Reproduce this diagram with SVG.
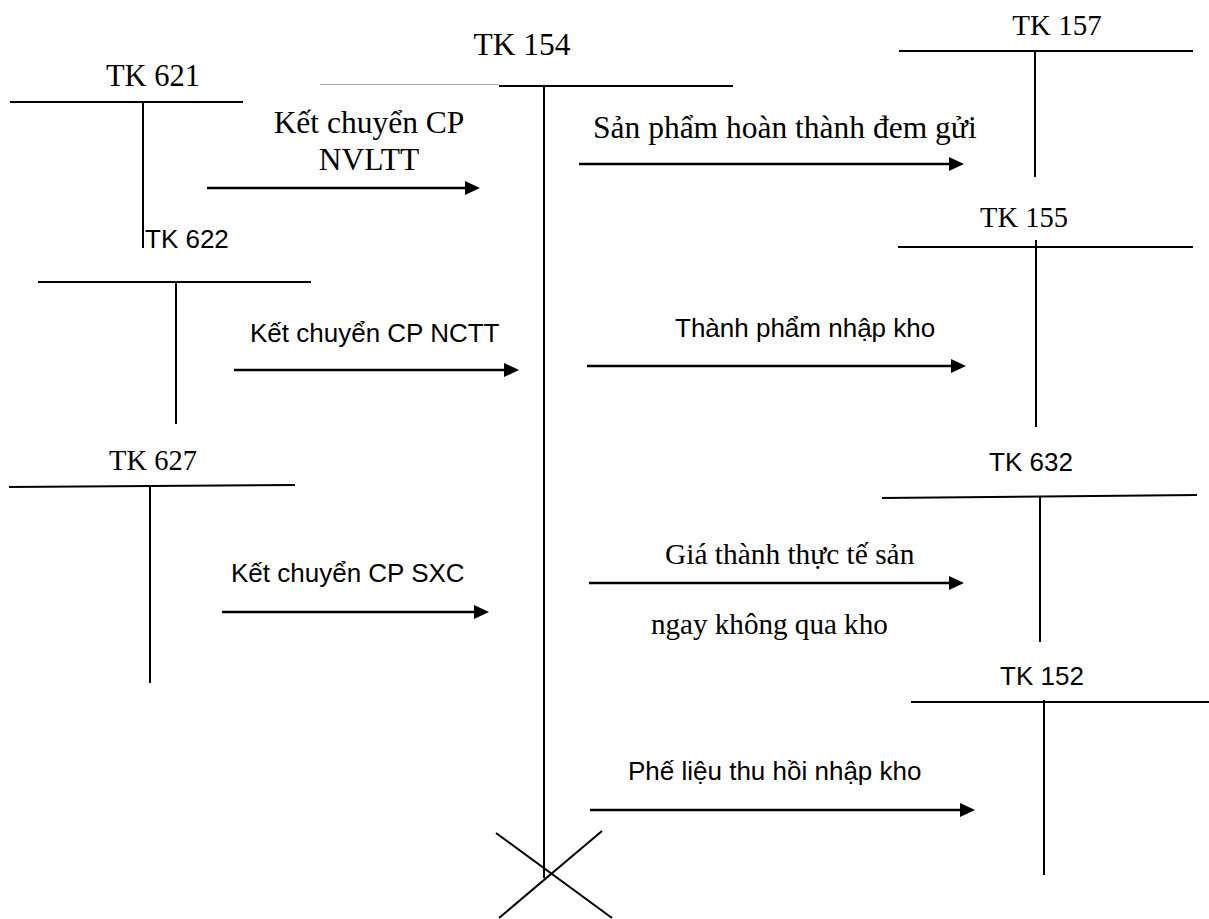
<svg xmlns="http://www.w3.org/2000/svg" width="1209" height="919" viewBox="0 0 1209 919">
  <style>
    .ln { stroke: #000; stroke-width: 2; fill: none; }
    .thin { stroke: #a8a8a8; stroke-width: 1.2; fill: none; }
    .arr { stroke: #000; stroke-width: 2.5; fill: none; marker-end: url(#ah); }
    .tnr { font-family: "Liberation Serif", "Times New Roman", serif; fill: #000; }
    .ar { font-family: "Liberation Sans", Arial, sans-serif; fill: #000; font-size: 26px; }
  </style>
  <defs>
    <marker id="ah" markerUnits="userSpaceOnUse" markerWidth="16" markerHeight="16" refX="3" refY="7" orient="auto">
      <path d="M0,0 L15,7 L0,14 z" fill="#000"/>
    </marker>
  </defs>
  <rect width="1209" height="919" fill="#fff"/>

  <g id="tk621">
    <text class="tnr" x="153" y="86" font-size="30.5" text-anchor="middle">TK 621</text>
    <line class="ln" x1="10" y1="102" x2="243" y2="102"/>
    <line class="ln" x1="143" y1="101" x2="143" y2="248"/>
  </g>
  <g id="tk622">
    <text class="ar" x="145" y="248">TK 622</text>
    <line class="ln" x1="38" y1="282" x2="311" y2="282"/>
    <line class="ln" x1="176" y1="282" x2="176" y2="424"/>
  </g>
  <g id="tk627">
    <text class="tnr" x="153" y="470" font-size="28.5" text-anchor="middle">TK 627</text>
    <line class="ln" x1="9" y1="487" x2="295" y2="485"/>
    <line class="ln" x1="150" y1="486" x2="150" y2="683"/>
  </g>
  <g id="tk154">
    <text class="tnr" x="522" y="55" font-size="31.5" text-anchor="middle">TK 154</text>
    <line class="thin" x1="320" y1="84.5" x2="499" y2="84.5"/>
    <line class="ln" x1="499" y1="86" x2="733" y2="86"/>
    <line class="ln" x1="544" y1="86" x2="544" y2="878"/>
    <line class="ln" x1="496" y1="833" x2="612" y2="918"/>
    <line class="ln" x1="602" y1="831" x2="499" y2="918"/>
  </g>
  <g id="tk157">
    <text class="tnr" x="1057" y="35" font-size="29" text-anchor="middle">TK 157</text>
    <line class="ln" x1="899" y1="51" x2="1193" y2="51"/>
    <line class="ln" x1="1035" y1="51" x2="1035" y2="177"/>
  </g>
  <g id="tk155">
    <text class="tnr" x="1024" y="227" font-size="28.5" text-anchor="middle">TK 155</text>
    <line class="ln" x1="898" y1="247" x2="1193" y2="247"/>
    <line class="ln" x1="1036" y1="240" x2="1036" y2="427"/>
  </g>
  <g id="tk632">
    <text class="ar" x="1031" y="471" text-anchor="middle">TK 632</text>
    <line class="ln" x1="882" y1="498" x2="1197" y2="495"/>
    <line class="ln" x1="1040" y1="497" x2="1040" y2="642"/>
  </g>
  <g id="tk152">
    <text class="ar" x="1042" y="685" text-anchor="middle">TK 152</text>
    <line class="ln" x1="911" y1="702" x2="1209" y2="702"/>
    <line class="ln" x1="1044" y1="700" x2="1044" y2="875"/>
  </g>

  <g id="connectors">
    <line class="arr" x1="207" y1="188" x2="468" y2="188"/>
    <line class="arr" x1="234" y1="370" x2="507" y2="370"/>
    <line class="arr" x1="222" y1="612" x2="477" y2="612"/>
    <line class="arr" x1="579" y1="164" x2="952" y2="164"/>
    <line class="arr" x1="587" y1="366" x2="954" y2="366"/>
    <line class="arr" x1="589" y1="583" x2="952" y2="583"/>
    <line class="arr" x1="590" y1="810" x2="963" y2="810"/>
  </g>

  <g id="labels">
    <text class="tnr" x="369" y="133" font-size="31.5" text-anchor="middle">Kết chuyển CP</text>
    <text class="tnr" x="369" y="170" font-size="31.5" text-anchor="middle">NVLTT</text>
    <text class="ar" x="250" y="342">Kết chuyển CP NCTT</text>
    <text class="ar" x="231" y="582">Kết chuyển CP SXC</text>
    <text class="tnr" x="593" y="138" font-size="31.5">Sản phẩm hoàn thành đem gửi</text>
    <text class="ar" x="675" y="337">Thành phẩm nhập kho</text>
    <text class="tnr" x="665" y="564" font-size="29.4">Giá thành thực tế sản</text>
    <text class="tnr" x="651" y="634" font-size="29.1">ngay không qua kho</text>
    <text class="ar" x="628" y="780">Phế liệu thu hồi nhập kho</text>
  </g>
</svg>
